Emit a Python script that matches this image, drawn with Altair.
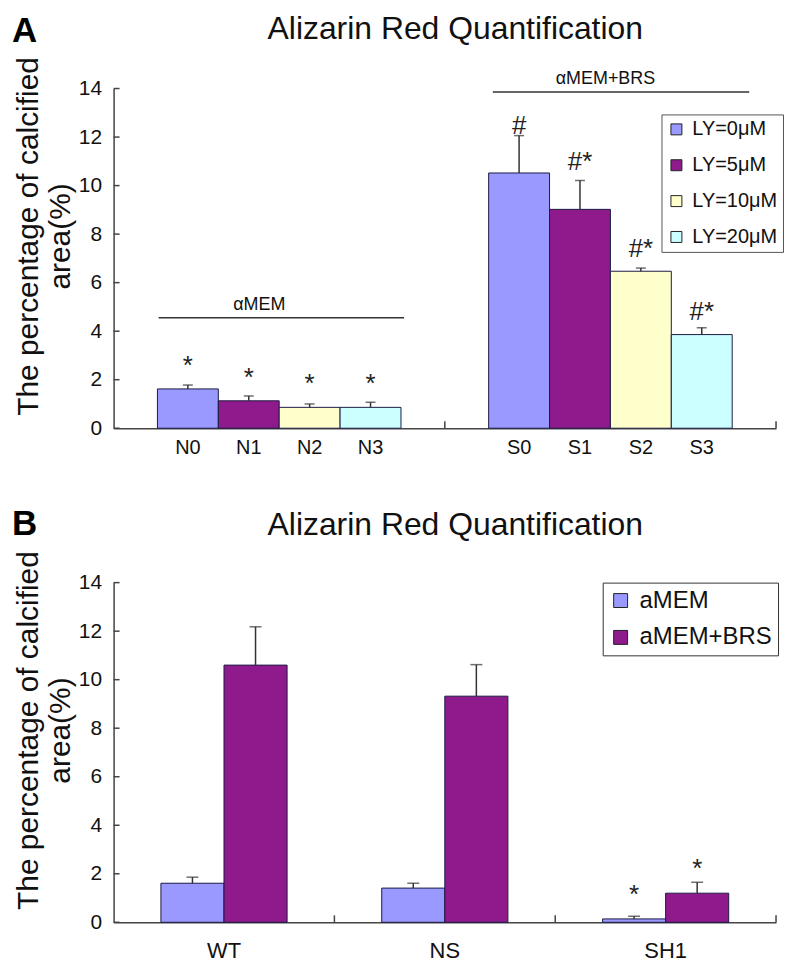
import altair as alt
import pandas as pd

FONT = "Liberation Sans"
AX = "#444444"
TXT = "#111111"

# ---------------- Panel A data ----------------
a_title = "Alizarin Red Quantification"
a_letter = "A"
a_group_order = ["αMEM", "αMEM+BRS"]
a_ly_order = ["LY=0μM", "LY=5μM", "LY=10μM", "LY=20μM"]
a_labels = ["N0", "N1", "N2", "N3", "S0", "S1", "S2", "S3"]
a_groups = ["αMEM"] * 4 + ["αMEM+BRS"] * 4
a_ly = a_ly_order * 2
a_means = [1.62, 1.13, 0.86, 0.86, 10.52, 9.02, 6.47, 3.86]
a_sd = [0.16, 0.20, 0.14, 0.21, 1.54, 1.19, 0.13, 0.28]
a_sig = ["*", "*", "*", "*", "#", "#*", "#*", "#*"]
a_sig_y = [2.74, 2.25, 2.0, 2.0, 12.6, 11.13, 7.56, 4.96]
a_line_y = [4.55, 13.86]
a_line_label_y = [5.08, 14.4]
a_colors = ["#9999FF", "#8F1A8C", "#FFFFCC", "#CCFFFF"]

# ---------------- Panel B data ----------------
b_title = "Alizarin Red Quantification"
b_letter = "B"
b_groups = ["WT", "NS", "SH1"]
b_media = ["aMEM", "aMEM+BRS"]
b_amem_mean = [1.61, 1.41, 0.14]
b_amem_sd = [0.25, 0.20, 0.11]
b_brs_mean = [10.60, 9.32, 1.20]
b_brs_sd = [1.58, 1.30, 0.45]
b_amem_sig = ["", "", "*"]
b_brs_sig = ["", "", "*"]
b_amem_sig_y = [0, 0, 1.28]
b_brs_sig_y = [0, 0, 2.37]
b_colors = ["#9999FF", "#8F1A8C"]

y_ticks = [0, 2, 4, 6, 8, 10, 12, 14]
y_title = ["The percentage of calcified", "area(%)"]

W, H = 665, 341

yscale = alt.Scale(domain=[0, 14], nice=False, zero=True)
yaxis = alt.Axis(values=y_ticks, ticks=False, tickSize=0, grid=False, domainColor=AX, domainWidth=1.5,
                 labelFont=FONT, labelFontSize=21, labelColor=TXT, labelPadding=12,
                 title=y_title, titleFont=FONT, titleFontSize=30, titleFontWeight="normal",
                 titleColor=TXT, titleLineHeight=32, titleX=-70, titleY=148,
                 titleAngle=270, titleBaseline="bottom", titleAlign="center")


def xenc(field, order, axis, bp=None):
    kw = {}
    if bp is not None:
        kw["bandPosition"] = bp
    return alt.X(field, sort=order, scale=alt.Scale(paddingInner=0, paddingOuter=0), axis=axis, **kw)


def Y(field):
    return alt.Y(field, scale=yscale, axis=yaxis)


# ---------------- build A ----------------
dfA = pd.DataFrame({"label": a_labels, "grp": a_groups, "ly": a_ly,
                    "mean": a_means, "sd": a_sd, "sig": a_sig, "sig_y": a_sig_y})
dfA["top"] = dfA["mean"] + dfA["sd"]

xaxisA = alt.Axis(labels=False, ticks=False, tickSize=0, title=None, domainColor=AX, domainWidth=1.5)
xoffA = alt.XOffset("ly:N", sort=a_ly_order, scale=alt.Scale(paddingInner=0, paddingOuter=0.72))
XA = xenc("grp:N", a_group_order, xaxisA)

baseA = alt.Chart(dfA)
barsA = baseA.mark_bar(stroke="#1c1c44", strokeWidth=1).encode(
    x=XA, xOffset=xoffA, y=Y("mean:Q"),
    color=alt.Color("ly:N", sort=a_ly_order, scale=alt.Scale(domain=a_ly_order, range=a_colors),
                    legend=alt.Legend(title=None, orient="none", legendX=550, legendY=26,
                                      fillColor="white", strokeColor="#555555", padding=5,
                                      symbolType="square", symbolSize=121, symbolStrokeColor="#222222",
                                      symbolStrokeWidth=1, labelFont=FONT, labelFontSize=20,
                                      labelColor=TXT, rowPadding=16, labelOffset=6)),
)
errA = baseA.mark_rule(color="#333333", strokeWidth=1.5).encode(
    x=XA, xOffset=xoffA, y=Y("mean:Q"), y2="top:Q")
capA = baseA.mark_tick(color="#333333", thickness=1.5, size=10).encode(
    x=XA, xOffset=xoffA, y=Y("top:Q"))
sigA = baseA.mark_text(font=FONT, fontSize=26, baseline="middle", dy=4, color="#222222").encode(
    x=XA, xOffset=xoffA, y=Y("sig_y:Q"), text="sig:N")
labA = baseA.mark_text(font=FONT, fontSize=20, baseline="alphabetic", color=TXT).encode(
    x=XA, xOffset=xoffA, y=alt.value(H + 26), text="label:N")

dfLines = pd.DataFrame({"grp": a_group_order, "line_y": a_line_y, "label_y": a_line_label_y})
lineN = alt.Chart(dfLines).transform_filter(alt.datum.grp == a_group_order[0]).mark_rule(
    color="#333333", strokeWidth=1.5).encode(
    x=xenc("grp:N", a_group_order, xaxisA, 0.136), x2=alt.X2("grp", bandPosition=0.877), y=Y("line_y:Q"))
lineS = alt.Chart(dfLines).transform_filter(alt.datum.grp == a_group_order[1]).mark_rule(
    color="#333333", strokeWidth=1.5).encode(
    x=xenc("grp:N", a_group_order, xaxisA, 0.145), x2=alt.X2("grp", bandPosition=0.919), y=Y("line_y:Q"))
labN = alt.Chart(dfLines).transform_filter(alt.datum.grp == a_group_order[0]).mark_text(
    font=FONT, fontSize=18, baseline="middle", color=TXT).encode(
    x=xenc("grp:N", a_group_order, xaxisA, 0.44), y=Y("label_y:Q"), text="grp:N")
labS = alt.Chart(dfLines).transform_filter(alt.datum.grp == a_group_order[1]).mark_text(
    font=FONT, fontSize=18, baseline="middle", color=TXT).encode(
    x=xenc("grp:N", a_group_order, xaxisA, 0.485), y=Y("label_y:Q"), text="grp:N")

dfTicks = pd.DataFrame({"v": y_ticks})
yTicksA = alt.Chart(dfTicks).mark_rule(color=AX, strokeWidth=1.5).encode(
    y=Y("v:Q"), x=alt.value(0), x2=alt.value(6))
xTicksA = alt.Chart(pd.DataFrame({"grp": a_group_order})).mark_rule(color=AX, strokeWidth=1.5).encode(
    x=xenc("grp:N", a_group_order, xaxisA, 1), y=alt.value(H), y2=alt.value(H - 7))

titleA = alt.Chart(pd.DataFrame({"t": [a_title]})).mark_text(
    font=FONT, fontSize=32, baseline="alphabetic", align="center", color=TXT).encode(
    text="t:N", x=alt.value(343), y=alt.value(-50))
letterA = alt.Chart(pd.DataFrame({"t": [a_letter]})).mark_text(
    font=FONT, fontSize=35, fontWeight="bold", baseline="alphabetic", align="left", color="#000000").encode(
    text="t:N", x=alt.value(-102), y=alt.value(-47))

chartA = alt.layer(barsA, errA, capA, sigA, labA, lineN, lineS, labN, labS, yTicksA, xTicksA,
                   titleA, letterA).properties(width=W, height=H)

# ---------------- build B ----------------
rows = []
for i, g in enumerate(b_groups):
    rows.append({"group": g, "medium": b_media[0], "mean": b_amem_mean[i], "sd": b_amem_sd[i],
                 "sig": b_amem_sig[i], "sig_y": b_amem_sig_y[i]})
    rows.append({"group": g, "medium": b_media[1], "mean": b_brs_mean[i], "sd": b_brs_sd[i],
                 "sig": b_brs_sig[i], "sig_y": b_brs_sig_y[i]})
dfB = pd.DataFrame(rows)
dfB["top"] = dfB["mean"] + dfB["sd"]
dfBsig = dfB[dfB["sig"] != ""]

xaxisB = alt.Axis(labels=True, ticks=False, tickSize=0, title=None, domainColor=AX, domainWidth=1.5,
                  labelFont=FONT, labelFontSize=22, labelColor=TXT, labelPadding=35,
                  labelBaseline="alphabetic", labelAngle=0)
xoffB = alt.XOffset("medium:N", sort=b_media, scale=alt.Scale(paddingInner=0, paddingOuter=0.75))
XB = xenc("group:N", b_groups, xaxisB)

baseB = alt.Chart(dfB)
barsB = baseB.mark_bar(stroke="#1c1c44", strokeWidth=1).encode(
    x=XB, xOffset=xoffB, y=Y("mean:Q"),
    color=alt.Color("medium:N", sort=b_media, scale=alt.Scale(domain=b_media, range=b_colors),
                    legend=alt.Legend(title=None, orient="none", legendX=491, legendY=0,
                                      fillColor="white", strokeColor="#333333", padding=6,
                                      symbolType="square", symbolSize=196, symbolStrokeColor="#222222",
                                      symbolStrokeWidth=1, labelFont=FONT, labelFontSize=24,
                                      labelColor=TXT, rowPadding=13, labelOffset=7)),
)
errB = baseB.mark_rule(color="#333333", strokeWidth=1.5).encode(
    x=XB, xOffset=xoffB, y=Y("mean:Q"), y2="top:Q")
capB = baseB.mark_tick(color="#333333", thickness=1.5, size=12).encode(
    x=XB, xOffset=xoffB, y=Y("top:Q"))
sigB = alt.Chart(dfBsig).mark_text(font=FONT, fontSize=26, baseline="middle", dy=4, color="#222222").encode(
    x=XB, xOffset=xoffB, y=Y("sig_y:Q"), text="sig:N")
yTicksB = alt.Chart(dfTicks).mark_rule(color=AX, strokeWidth=1.5).encode(
    y=Y("v:Q"), x=alt.value(0), x2=alt.value(6))
xTicksB = alt.Chart(pd.DataFrame({"group": b_groups})).mark_rule(color=AX, strokeWidth=1.5).encode(
    x=xenc("group:N", b_groups, xaxisB, 1), y=alt.value(H), y2=alt.value(H - 7))
titleB = alt.Chart(pd.DataFrame({"t": [b_title]})).mark_text(
    font=FONT, fontSize=32, baseline="alphabetic", align="center", color=TXT).encode(
    text="t:N", x=alt.value(343), y=alt.value(-48))
letterB = alt.Chart(pd.DataFrame({"t": [b_letter]})).mark_text(
    font=FONT, fontSize=35, fontWeight="bold", baseline="alphabetic", align="left", color="#000000").encode(
    text="t:N", x=alt.value(-102), y=alt.value(-48))

chartB = alt.layer(barsB, errB, capB, sigB, yTicksB, xTicksB, titleB, letterB
                   ).properties(width=W, height=H)

chart = alt.vconcat(chartA, chartB, spacing=49).resolve_scale(
    x="independent", y="independent", color="independent", xOffset="independent"
).configure(padding={"left": 4, "top": 3, "right": 0, "bottom": 0}, background="white"
            ).configure_view(stroke=None)

chart.save("out.html", embed_options={"renderer": "svg", "actions": False})
